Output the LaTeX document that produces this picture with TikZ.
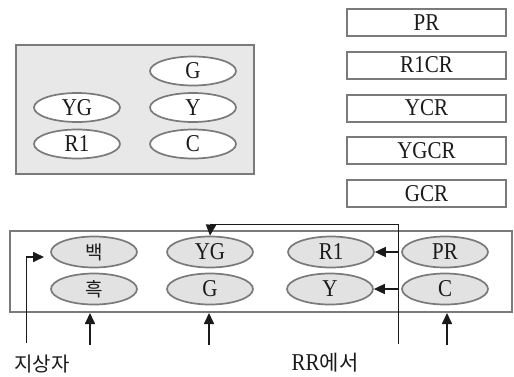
\documentclass[tikz,border=0pt]{standalone}
\usepackage{fontspec}
\setmainfont{Liberation Serif}
\newfontfamily\kr{Noto Sans CJK KR}
\usetikzlibrary{shapes.geometric,arrows.meta}
\definecolor{bord}{HTML}{7A7A7A}
\definecolor{boxfill}{HTML}{E8E8E8}
\definecolor{ellfill}{HTML}{E2E2E2}
\definecolor{ink}{HTML}{1A1A1A}
\newcommand{\tx}[1]{\scalebox{1}[1.15]{#1}}
\tikzset{
  panel/.style={draw=bord, line width=2pt, inner sep=0pt, anchor=center},
  oval/.style={ellipse, draw=bord, line width=1.7pt, fill=white, inner sep=0pt,
    minimum width=86pt, minimum height=29pt, text=ink, font=\fontsize{21}{21}\selectfont},
  goval/.style={oval, fill=ellfill, minimum height=31pt},
  tag/.style={draw=bord, line width=2pt, fill=white, inner sep=0pt,
    minimum width=159pt, minimum height=27pt, text=ink, font=\fontsize{21}{21}\selectfont},
  arr/.style={-{Triangle[length=11pt,width=10pt]}, line width=1.7pt, draw=ink},
  thinl/.style={line width=0.9pt, draw=ink},
  lbl/.style={text=ink, font=\kr\fontsize{20}{20}\selectfont, inner sep=0pt}
}
\begin{document}
\begin{tikzpicture}[x=1pt,y=-1pt]
\useasboundingbox (0,0) rectangle (514,376);
% top-left panel
\node[panel, fill=boxfill, minimum width=238pt, minimum height=129pt] (top) at (135,109.5) {};
\node[oval] (tG) at (193,71) {\tx{G}};
\node[oval] (tY) at (193,107.5) {\tx{Y}};
\node[oval] (tC) at (193,144) {\tx{C}};
\node[oval] (tYG) at (77,107.5) {\tx{YG}};
\node[oval] (tR1) at (77,144) {\tx{R1}};
% right tags
\node[tag] (pr) at (426.5,22.5) {\tx{PR}};
\node[tag] (r1cr) at (426.5,65) {\tx{R1CR}};
\node[tag] (ycr) at (426.5,108) {\tx{YCR}};
\node[tag] (ygcr) at (426.5,150.5) {\tx{YGCR}};
\node[tag] (gcr) at (426.5,193.5) {\tx{GCR}};
% bottom panel
\node[panel, fill=white, minimum width=502pt, minimum height=81pt] (bot) at (261,271.5) {};
\node[goval] (bk) at (94,252) {{\kr\fontsize{19}{19}\selectfont 백}};
\node[goval] (hk) at (94,289) {{\kr\fontsize{19}{19}\selectfont 흑}};
\node[goval] (bYG) at (210,252) {\tx{YG}};
\node[goval] (bG) at (210,289) {\tx{G}};
\node[goval] (bR1) at (331,252) {\tx{R1}};
\node[goval] (bY) at (330,289) {\tx{Y}};
\node[goval] (bPR) at (445,252) {\tx{PR}};
\node[goval] (bC) at (445,289) {\tx{C}};
% coordinates
\coordinate (l0) at (26,343);
\coordinate (l1) at (26,257);
\coordinate (l2) at (44,257);
\coordinate (v0) at (398,344);
\coordinate (v1) at (398,224);
\coordinate (v2) at (211,224);
\coordinate (h0) at (90,345);
\coordinate (g0) at (209,345);
\coordinate (c0) at (447,345);
% connectors
\draw[thinl] (l0) -- (l1);
\draw[arr] (l1) -- (l2);
\draw[thinl] (v0) -- (v1) -- (v2);
\draw[arr] (v2) -- (bYG.north);
\draw[arr] (h0) -- (h0 |- bot.south);
\draw[arr] (g0) -- (g0 |- bot.south);
\draw[arr] (c0) -- (c0 |- bot.south);
\draw[arr] (v1 |- bPR.west) -- (bR1.east);
\draw[arr] (v1 |- bC.west) -- (bY.east);
% labels
\node[lbl] (lab1) at (42,364) {지상자};
\node[lbl] (lab2) at (325,363) {\fontspec{Liberation Serif}\fontsize{21}{21}\selectfont\tx{RR}{\kr 에서}};
\end{tikzpicture}
\end{document}
